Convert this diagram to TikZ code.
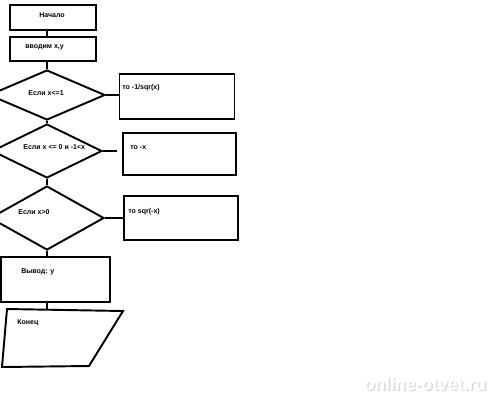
\documentclass[tikz,border=0pt]{standalone}
\usepackage{fontspec}
\setmainfont{Liberation Sans}
\usetikzlibrary{shapes.geometric,positioning,calc}

\tikzset{
  blk/.style={draw, line width=1.1pt, rectangle, inner sep=0pt},
  cond/.style={draw, line width=1.1pt, diamond, inner sep=0pt},
  txt/.style={anchor=west, inner sep=0pt, font=\fontsize{4}{5}\selectfont\bfseries},
  wire/.style={line width=1.1pt},
  wmark/.style={inner sep=0pt, font=\fontsize{10}{12}\selectfont\bfseries},
}

\begin{document}
\begin{tikzpicture}[x=0.02cm, y=-0.02cm]
  \useasboundingbox (0,0) rectangle (500,400);
  \clip (0,0) rectangle (500,400);

  % Start and input
  \node[blk, minimum width=1.72cm, minimum height=0.5cm] (start) at (53,17.5) {};
  \node[txt, anchor=center] (starttxt) at (52,15) {Начало};
  \node[blk, minimum width=1.72cm, minimum height=0.48cm] (input) at (53,49) {};
  \node[txt] (inputtxt) at (25,47) {вводим x,y};

  % Conditions
  \node[cond, minimum width=2.32cm, minimum height=1.0cm] (d1) at (47,95) {};
  \node[txt] (d1txt) at (28,93) {Если x<=1};
  \node[cond, minimum width=2.2cm, minimum height=1.08cm] (d2) at (47,151) {};
  \node[txt] (d2txt) at (23,147) {Если x <= 0 и -1<x};
  \node[cond, minimum width=2.28cm, minimum height=1.28cm] (d3) at (47,218) {};
  \node[txt] (d3txt) at (18,212) {Если x>0};

  % Results
  \node[blk, minimum width=2.3cm, minimum height=0.9cm] (r1) at (177,96.5) {};
  \node[txt] (r1txt) at (122,88) {то -1/sqr(x)};
  \node[blk, minimum width=2.26cm, minimum height=0.84cm] (r2) at (179.5,154) {};
  \node[txt] (r2txt) at (130,148) {то -x};
  \node[blk, minimum width=2.28cm, minimum height=0.88cm] (r3) at (181,218) {};
  \node[txt] (r3txt) at (128,212) {то sqr(-x)};

  % Output and end
  \node[blk, minimum width=2.18cm, minimum height=0.9cm] (output) at (55.5,279.5) {};
  \node[txt] (outputtxt) at (21,272) {Вывод: y};
  \draw[wire] (7,309) -- (123,311) -- (89,366) -- (2,367) -- cycle;
  \coordinate (stoptop) at (47,309.5);
  \node[txt] (stoptxt) at (17,323) {Конец};

  % Connectors
  \draw[wire] (start.south -| d1.north) -- (input.north -| d1.north);
  \draw[wire] (input.south -| d1.north) -- (d1.north);
  \draw[wire] (d1.south) -- (d2.north);
  \draw[wire] (d2.south) -- (d3.north);
  \draw[wire] (d3.south) -- (output.north -| d3.south);
  \draw[wire] (output.south -| d3.south) -- (stoptop);
  \draw[wire] (d1.east) -- (r1.west |- d1.east);
  \coordinate (r2in) at (117,151);
  \draw[wire] (d2.east) -- (r2in);
  \draw[wire] (d3.east) -- (r3.west);

  % Watermark
  \node[wmark, text=gray!30] (wmshadow) at (426.5,385.5) {online-otvet.ru};
  \node[wmark, text=white] (wm) at (425,384) {online-otvet.ru};
\end{tikzpicture}
\end{document}
